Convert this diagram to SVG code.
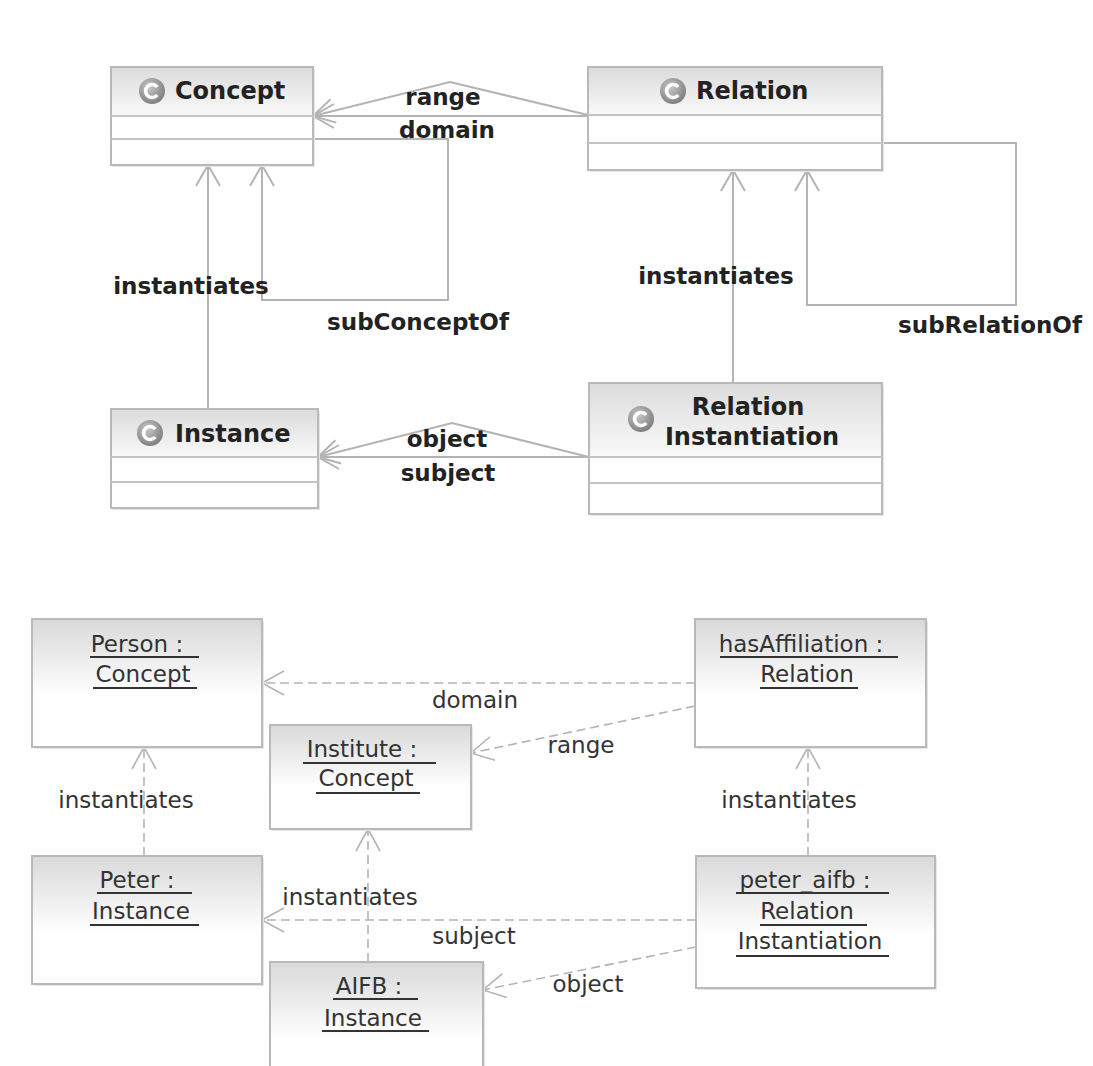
<svg xmlns="http://www.w3.org/2000/svg" width="1093" height="1066" viewBox="0 0 1093 1066">
<style>
.box{stroke:#b9b9b9;stroke-width:2;}
.sep{stroke:#c4c4c4;stroke-width:2;}
.shadow{fill:#e6e6e6;}
.title{font-family:"DejaVu Sans",Verdana,sans-serif;font-weight:bold;font-size:24px;fill:#222;}
.lbl{font-family:"DejaVu Sans",Verdana,sans-serif;font-weight:bold;font-size:23px;fill:#222;}
.obj{font-family:"DejaVu Sans",Verdana,sans-serif;font-size:23px;fill:#333;text-anchor:middle;}
.olbl{font-family:"DejaVu Sans",Verdana,sans-serif;font-size:23px;fill:#333;}
.ul{stroke:#333;stroke-width:2;}
.solid{fill:none;stroke:#b4b4b4;stroke-width:2;}
.dash{fill:none;stroke:#b4b4b4;stroke-width:1.6;stroke-dasharray:9 5;}
</style>
<defs>
<linearGradient id="hdr" x1="0" y1="0" x2="0" y2="1">
<stop offset="0" stop-color="#dcdcdc"/>
<stop offset="1" stop-color="#f9f9f9"/>
</linearGradient>
<linearGradient id="objg" x1="0" y1="0" x2="0" y2="1">
<stop offset="0" stop-color="#d9d9d9"/>
<stop offset="0.6" stop-color="#ffffff"/>
<stop offset="1" stop-color="#ffffff"/>
</linearGradient>
<radialGradient id="icon" cx="0.4" cy="0.35" r="0.7">
<stop offset="0" stop-color="#c8c8c8"/>
<stop offset="1" stop-color="#7a7a7a"/>
</radialGradient>
<marker id="arr" markerUnits="userSpaceOnUse" markerWidth="30" markerHeight="30" viewBox="-25 -15 30 30" refX="0" refY="0" orient="auto">
<path d="M-21,-12 L0,0 L-21,12" fill="none" stroke="#b4b4b4" stroke-width="2"/>
</marker>
<marker id="arr2" markerUnits="userSpaceOnUse" markerWidth="30" markerHeight="30" viewBox="-25 -15 30 30" refX="0" refY="0" orient="auto">
<path d="M-22,-12 L0,0 L-22,12" fill="none" stroke="#b4b4b4" stroke-width="1.6"/>
</marker>
<g id="cicon">
<circle r="13" fill="url(#icon)"/>
<path d="M5.2,-4 A6.5,6.5 0 1 0 5.2,4" fill="none" stroke="#fff" stroke-width="3.6"/>
</g>
</defs>
<rect width="1093" height="1066" fill="#fff"/>

<g id="connectors">
<path class="solid" d="M588,115 L450,82 L313,116" marker-end="url(#arr)"/>
<path class="solid" d="M588,116 L313,116" marker-end="url(#arr)"/>
<path class="solid" d="M313,139 L448,139 L448,300 L262,300 L262,165" marker-end="url(#arr)"/>
<path class="solid" d="M208,409 L208,165" marker-end="url(#arr)"/>
<path class="solid" d="M733,383 L733,170" marker-end="url(#arr)"/>
<path class="solid" d="M882,143 L1016,143 L1016,305 L807,305 L807,170" marker-end="url(#arr)"/>
<path class="solid" d="M589,457 L452,423 L318,457" marker-end="url(#arr)"/>
<path class="solid" d="M589,457 L318,457" marker-end="url(#arr)"/>
<text class="lbl" x="443" y="105" text-anchor="middle">range</text>
<text class="lbl" x="447" y="138" text-anchor="middle">domain</text>
<text class="lbl" x="191" y="294" text-anchor="middle">instantiates</text>
<text class="lbl" x="418" y="330" text-anchor="middle">subConceptOf</text>
<text class="lbl" x="716" y="284" text-anchor="middle">instantiates</text>
<text class="lbl" x="990" y="333" text-anchor="middle">subRelationOf</text>
<text class="lbl" x="447" y="447" text-anchor="middle">object</text>
<text class="lbl" x="448" y="481" text-anchor="middle">subject</text>
<path class="dash" d="M695,683 L262,683" marker-end="url(#arr2)"/>
<path class="dash" d="M695,706 L471,753" marker-end="url(#arr2)"/>
<path class="dash" d="M144,856 L144,747" marker-end="url(#arr2)"/>
<path class="dash" d="M808,856 L808,747" marker-end="url(#arr2)"/>
<path class="dash" d="M368,962 L368,829" marker-end="url(#arr2)"/>
<path class="dash" d="M696,920 L262,920" marker-end="url(#arr2)"/>
<path class="dash" d="M696,947 L483,990" marker-end="url(#arr2)"/>
<text class="olbl" x="475" y="708" text-anchor="middle">domain</text>
<text class="olbl" x="581" y="753" text-anchor="middle">range</text>
<text class="olbl" x="126" y="808" text-anchor="middle">instantiates</text>
<text class="olbl" x="789" y="808" text-anchor="middle">instantiates</text>
<text class="olbl" x="350" y="905" text-anchor="middle">instantiates</text>
<text class="olbl" x="474" y="944" text-anchor="middle">subject</text>
<text class="olbl" x="588" y="992" text-anchor="middle">object</text>
</g>

<g id="Concept">
<rect class="shadow" x="113" y="69" width="202" height="98"/>
<rect x="111" y="67" width="202" height="98" fill="#fff" class="box"/>
<rect x="112" y="68" width="200" height="48" fill="url(#hdr)"/>
<line class="sep" x1="111" y1="116" x2="313" y2="116"/>
<line class="sep" x1="111" y1="139" x2="313" y2="139"/>
<use href="#cicon" x="152" y="91"/>
<text class="title" x="175" y="99">Concept</text>
</g>

<g id="Relation">
<rect class="shadow" x="590" y="69" width="294" height="103"/>
<rect x="588" y="67" width="294" height="103" fill="#fff" class="box"/>
<rect x="589" y="68" width="292" height="47" fill="url(#hdr)"/>
<line class="sep" x1="588" y1="115" x2="882" y2="115"/>
<line class="sep" x1="588" y1="143" x2="882" y2="143"/>
<use href="#cicon" x="673" y="91"/>
<text class="title" x="696" y="99">Relation</text>
</g>

<g id="Instance">
<rect class="shadow" x="113" y="411" width="207" height="99"/>
<rect x="111" y="409" width="207" height="99" fill="#fff" class="box"/>
<rect x="112" y="410" width="205" height="47" fill="url(#hdr)"/>
<line class="sep" x1="111" y1="457" x2="318" y2="457"/>
<line class="sep" x1="111" y1="482" x2="318" y2="482"/>
<use href="#cicon" x="150" y="433"/>
<text class="title" x="175" y="442">Instance</text>
</g>

<g id="RelationInstantiation">
<rect class="shadow" x="591" y="385" width="293" height="131"/>
<rect x="589" y="383" width="293" height="131" fill="#fff" class="box"/>
<rect x="590" y="384" width="291" height="73" fill="url(#hdr)"/>
<line class="sep" x1="589" y1="457" x2="882" y2="457"/>
<line class="sep" x1="589" y1="483" x2="882" y2="483"/>
<use href="#cicon" x="641" y="419"/>
<text class="title" x="748" y="415" text-anchor="middle">Relation</text>
<text class="title" x="752" y="445" text-anchor="middle">Instantiation</text>
</g>

<g id="Person">
<rect class="shadow" x="34" y="621" width="230" height="128"/>
<rect x="32" y="619" width="230" height="128" fill="url(#objg)" class="box"/>
<text class="obj" x="137" y="652">Person :</text>
<line class="ul" x1="90" y1="657" x2="199" y2="657"/>
<text class="obj" x="143" y="682">Concept</text>
<line class="ul" x1="93" y1="688" x2="197" y2="688"/>
</g>

<g id="Institute">
<rect class="shadow" x="272" y="727" width="201" height="104"/>
<rect x="270" y="725" width="201" height="104" fill="url(#objg)" class="box"/>
<text class="obj" x="362" y="757">Institute :</text>
<line class="ul" x1="303" y1="763" x2="436" y2="763"/>
<text class="obj" x="366" y="786">Concept</text>
<line class="ul" x1="316" y1="793" x2="420" y2="793"/>
</g>

<g id="hasAffiliation">
<rect class="shadow" x="697" y="621" width="231" height="128"/>
<rect x="695" y="619" width="231" height="128" fill="url(#objg)" class="box"/>
<text class="obj" x="801" y="652">hasAffiliation :</text>
<line class="ul" x1="720" y1="657" x2="898" y2="657"/>
<text class="obj" x="807" y="682">Relation</text>
<line class="ul" x1="760" y1="688" x2="858" y2="688"/>
</g>

<g id="Peter">
<rect class="shadow" x="34" y="858" width="230" height="128"/>
<rect x="32" y="856" width="230" height="128" fill="url(#objg)" class="box"/>
<text class="obj" x="137" y="888">Peter :</text>
<line class="ul" x1="97" y1="893" x2="192" y2="893"/>
<text class="obj" x="141" y="919">Instance</text>
<line class="ul" x1="90" y1="925" x2="199" y2="925"/>
</g>

<g id="AIFB">
<rect class="shadow" x="272" y="964" width="213" height="128"/>
<rect x="270" y="962" width="213" height="128" fill="url(#objg)" class="box"/>
<text class="obj" x="369" y="994">AIFB :</text>
<line class="ul" x1="333" y1="999" x2="418" y2="999"/>
<text class="obj" x="373" y="1026">Instance</text>
<line class="ul" x1="322" y1="1031" x2="429" y2="1031"/>
</g>

<g id="peter_aifb">
<rect class="shadow" x="698" y="858" width="239" height="132"/>
<rect x="696" y="856" width="239" height="132" fill="url(#objg)" class="box"/>
<text class="obj" x="805" y="888">peter_aifb :</text>
<line class="ul" x1="736" y1="893" x2="889" y2="893"/>
<text class="obj" x="807" y="919">Relation</text>
<line class="ul" x1="760" y1="925" x2="867" y2="925"/>
<text class="obj" x="810" y="949">Instantiation</text>
<line class="ul" x1="736" y1="956" x2="889" y2="956"/>
</g>
</svg>
